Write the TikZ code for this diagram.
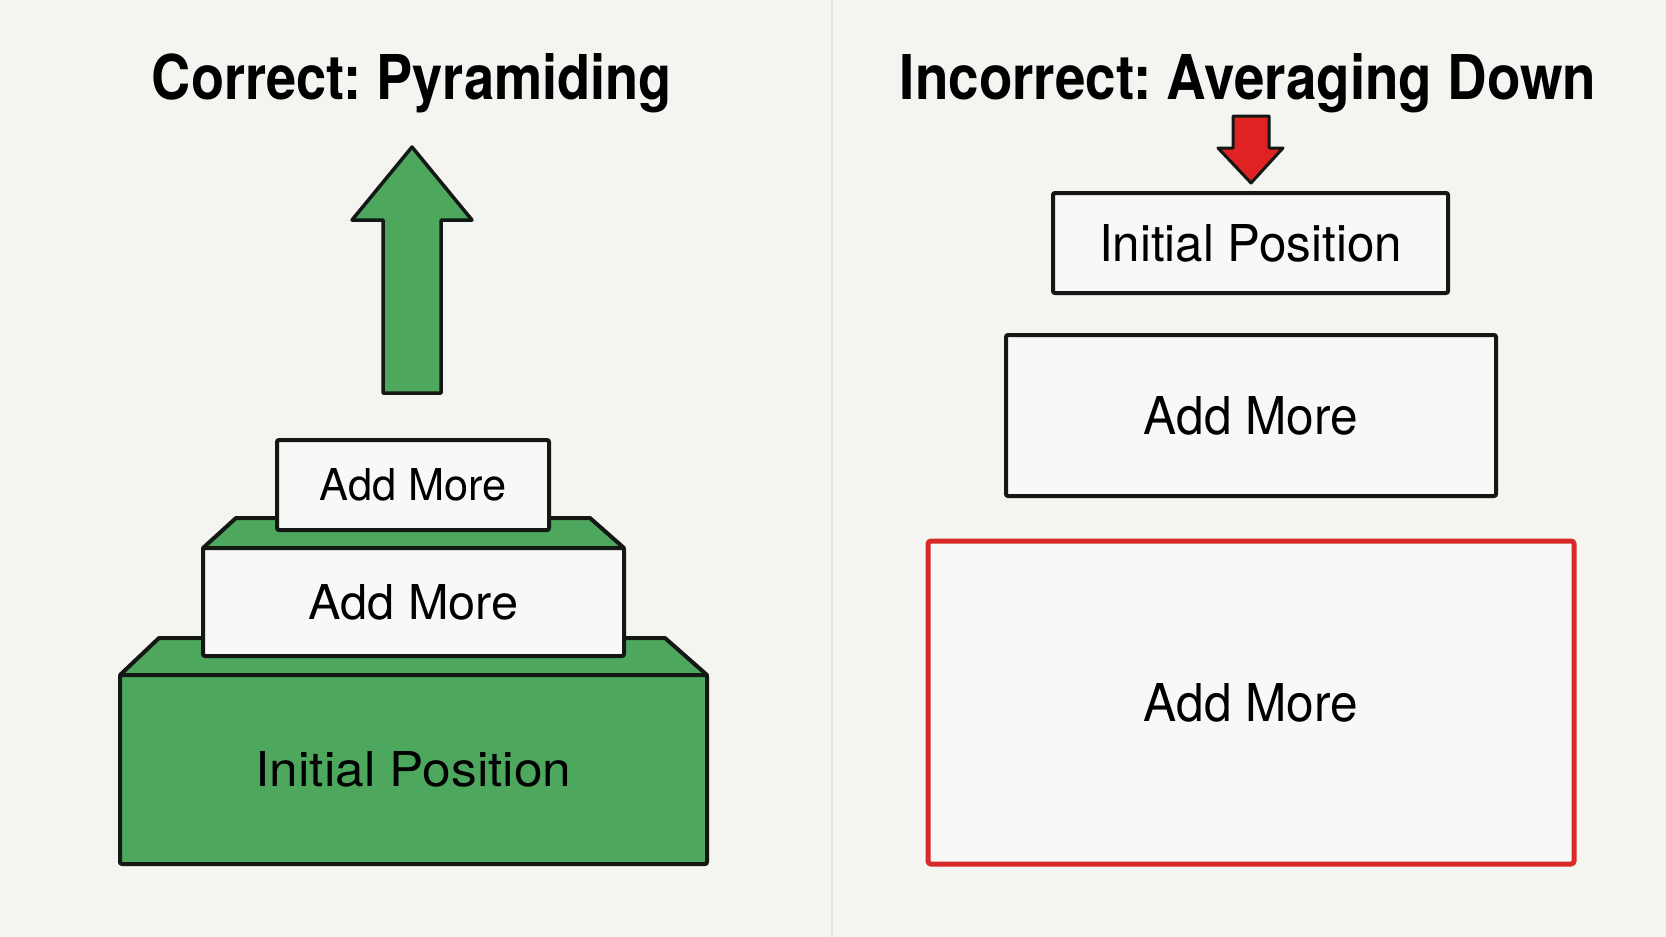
\documentclass[tikz,border=0pt]{standalone}
\usepackage{fontspec}
\setmainfont{TeX Gyre Heros}
\usepackage{graphicx}
\frenchspacing
\definecolor{bg}{HTML}{F4F4F1}
\definecolor{paper}{HTML}{F8F8F6}
\definecolor{ink}{HTML}{141814}
\definecolor{grn}{HTML}{4DA85E}
\definecolor{redline}{HTML}{D92A2A}
\definecolor{redfill}{HTML}{E02222}
\definecolor{divid}{HTML}{E4E4E1}
\newcommand\lbl[3]{\resizebox{#1}{#2}{#3}}
\begin{document}
\begin{tikzpicture}[x=1pt,y=-1pt,
  box/.style={draw=ink, line width=4pt, fill=paper, rounded corners=2pt, inner sep=0pt, outer sep=0pt},
  gbox/.style={box, fill=grn},
  redbox/.style={draw=redline, line width=5pt, fill=paper, rounded corners=3pt, inner sep=0pt, outer sep=0pt},
  platform/.style={draw=ink, fill=grn, line width=4pt, line join=round},
  blockarrow/.style={draw=ink, line width=3.5pt, line join=round},
  title/.style={anchor=base, inner sep=0pt, font=\bfseries},
  divline/.style={draw=divid, line width=2pt}]
\fill[bg] (0,0) rectangle (1666,937);
\useasboundingbox (0,0) rectangle (1666,937);
\draw[divline] (832,0) -- (832,937);

% titles
\node[title] (t1) at (412,99) {\lbl{520pt}{46pt}{Correct: Pyramiding}};
\node[title] (t2) at (1248,99) {\lbl{696pt}{46pt}{Incorrect: Averaging Down}};

% left: pyramid
\filldraw[blockarrow, fill=grn] (412,147) -- (472,220) -- (441,220) -- (441,393) -- (383,393) -- (383,220) -- (352,220) -- cycle;
\filldraw[platform] (120,675) -- (159,638) -- (665,638) -- (707,675) -- cycle;
\node[gbox, minimum width=587pt, minimum height=189pt] (ip) at (413.5,769.5) {\lbl{316pt}{35pt}{Initial Position}};
\filldraw[platform] (203,548) -- (236,518) -- (590,518) -- (624,548) -- cycle;
\node[box, minimum width=421pt, minimum height=108pt] (am2) at (413.5,602) {\lbl{210pt}{35pt}{Add More}};
\node[box, minimum width=272pt, minimum height=90pt] (am1) at (413,485) {\lbl{187pt}{32pt}{Add More}};

% right: averaging down
\filldraw[blockarrow, fill=redfill, line width=3pt] (1233,116) -- (1269,116) -- (1269,148) -- (1283,148) -- (1251,183) -- (1218,148) -- (1233,148) -- cycle;
\node[box, minimum width=395pt, minimum height=100pt] (rip) at (1250.5,243) {\lbl{303pt}{37pt}{Initial Position}};
\node[box, minimum width=490pt, minimum height=161pt] (ram1) at (1251,415.5) {\lbl{214pt}{38pt}{Add More}};
\node[redbox, minimum width=646pt, minimum height=323pt] (ram2) at (1251,702.5) {\lbl{214pt}{38pt}{Add More}};
\end{tikzpicture}
\end{document}
